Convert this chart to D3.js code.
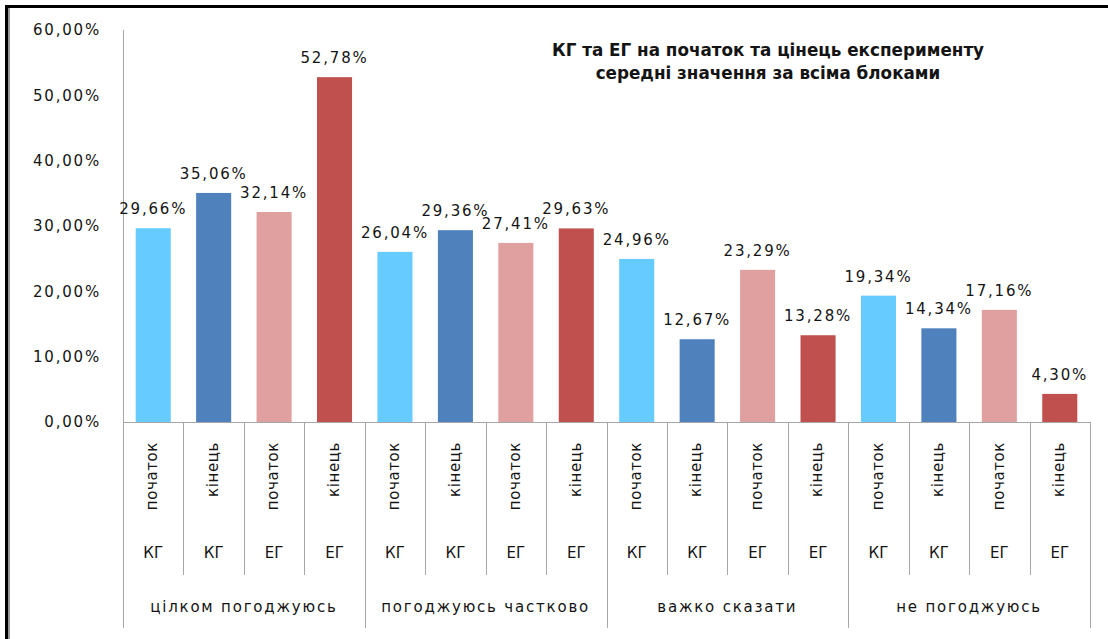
<!DOCTYPE html>
<html>
<head>
<meta charset="utf-8">
<script src="https://cdn.jsdelivr.net/npm/d3@7"></script>
<style>
  body { margin: 0; background: #fff; }
  text { font-family: "DejaVu Sans", sans-serif; fill: #141414; }
</style>
</head>
<body>
<div id="chart"></div>
<script>
// data
const groups = ["цілком погоджуюсь", "погоджуюсь частково", "важко сказати", "не погоджуюсь"];
const phases = ["початок", "кінець", "початок", "кінець"];
const teams = ["КГ", "КГ", "ЕГ", "ЕГ"];
const values = [
  [29.66, 35.06, 32.14, 52.78],
  [26.04, 29.36, 27.41, 29.63],
  [24.96, 12.67, 23.29, 13.28],
  [19.34, 14.34, 17.16, 4.30]
];
const yTicks = [0, 10, 20, 30, 40, 50, 60];
const colors = ["#66ccff", "#4f81bd", "#e0a0a0", "#c0504d"];
const titleLines = ["КГ та ЕГ на початок та цінець експерименту", "середні значення за всіма блоками"];

const W = 1108, H = 639;
const plotL = 123, plotR = 1090, plotT = 30, base = 422;

const svg = d3.select("#chart").append("svg")
  .attr("width", W).attr("height", H);

// frame
svg.append("line").attr("x1", 6).attr("x2", W).attr("y1", 6.5).attr("y2", 6.5)
  .attr("stroke", "#000").attr("stroke-width", 3);
svg.append("line").attr("x1", 6.5).attr("x2", 6.5).attr("y1", 5).attr("y2", H)
  .attr("stroke", "#000").attr("stroke-width", 3);
svg.append("line").attr("x1", 9).attr("x2", 9).attr("y1", 8).attr("y2", H)
  .attr("stroke", "#999").attr("stroke-width", 2);

// flatten rows
const rows = [];
values.forEach((g, gi) => g.forEach((v, j) => rows.push({ gi, j, v, id: gi * 4 + j })));

const slot = d3.scaleBand().domain(d3.range(rows.length)).range([plotL, plotR]).padding(0);
const x = d3.scaleBand().domain(d3.range(rows.length)).range([plotL, plotR])
  .paddingInner(0.42).paddingOuter(0.21);
const y = d3.scaleLinear().domain([0, 60]).range([base, plotT]);

// y axis
const yAxis = svg.append("g")
  .attr("transform", `translate(${plotL},0)`)
  .call(d3.axisLeft(y).tickValues(yTicks).tickSize(0).tickPadding(22)
    .tickFormat(d => d.toFixed(2).replace(".", ",") + "%"));
yAxis.select(".domain").remove();
yAxis.selectAll("text")
  .style("font-family", "DejaVu Sans").style("font-size", "15px")
  .style("letter-spacing", "1.8px").attr("fill", "#141414");

svg.append("line").attr("x1", plotL + 0.5).attr("x2", plotL + 0.5)
  .attr("y1", plotT).attr("y2", 628).attr("stroke", "#a6a6a6");

// bars
svg.selectAll("rect.bar").data(rows).join("rect")
  .attr("class", "bar")
  .attr("x", d => x(d.id))
  .attr("y", d => y(d.v))
  .attr("width", x.bandwidth())
  .attr("height", d => y(0) - y(d.v))
  .attr("fill", d => colors[d.j]);

// baseline
svg.append("line").attr("x1", plotL).attr("x2", plotR)
  .attr("y1", base + 0.5).attr("y2", base + 0.5).attr("stroke", "#a6a6a6");

// dividers
d3.range(1, rows.length + 1).forEach(i => {
  const xx = i < rows.length ? slot(i) : plotR;
  const long = i % 4 === 0;
  svg.append("line")
    .attr("x1", Math.round(xx) + 0.5).attr("x2", Math.round(xx) + 0.5)
    .attr("y1", base).attr("y2", long ? 628 : 575)
    .attr("stroke", "#a6a6a6");
});

// value labels
svg.selectAll("text.val").data(rows).join("text")
  .attr("class", "val")
  .attr("x", d => x(d.id) + x.bandwidth() / 2)
  .attr("y", d => y(d.v) - 14)
  .attr("text-anchor", "middle")
  .style("font-size", "15px").style("letter-spacing", "1.8px")
  .text(d => d.v.toFixed(2).replace(".", ",") + "%");

// rotated phase labels
svg.selectAll("text.phase").data(rows).join("text")
  .attr("class", "phase")
  .attr("transform", d => `translate(${slot(d.id) + slot.bandwidth() / 2 - 1},442) rotate(-90)`)
  .attr("dy", "0.35em")
  .attr("text-anchor", "end")
  .style("font-size", "15px").style("letter-spacing", "0.6px")
  .text(d => phases[d.j]);

// team labels
svg.selectAll("text.team").data(rows).join("text")
  .attr("class", "team")
  .attr("x", d => slot(d.id) + slot.bandwidth() / 2)
  .attr("y", 558)
  .attr("text-anchor", "middle")
  .style("font-size", "15px")
  .text(d => teams[d.j]);

// group labels
svg.selectAll("text.grp").data(groups).join("text")
  .attr("class", "grp")
  .attr("x", (d, i) => (slot(i * 4) + (i < 3 ? slot(i * 4 + 4) : plotR)) / 2)
  .attr("y", 612)
  .attr("text-anchor", "middle")
  .style("font-size", "15px").style("letter-spacing", "1.8px")
  .text(d => d);

// title
svg.selectAll("text.title").data(titleLines).join("text")
  .attr("class", "title")
  .attr("x", 768)
  .attr("y", (d, i) => 56 + i * 23)
  .attr("text-anchor", "middle")
  .style("font-size", "16.8px").style("font-weight", "bold")
  .text(d => d);
</script>
</body>
</html>
